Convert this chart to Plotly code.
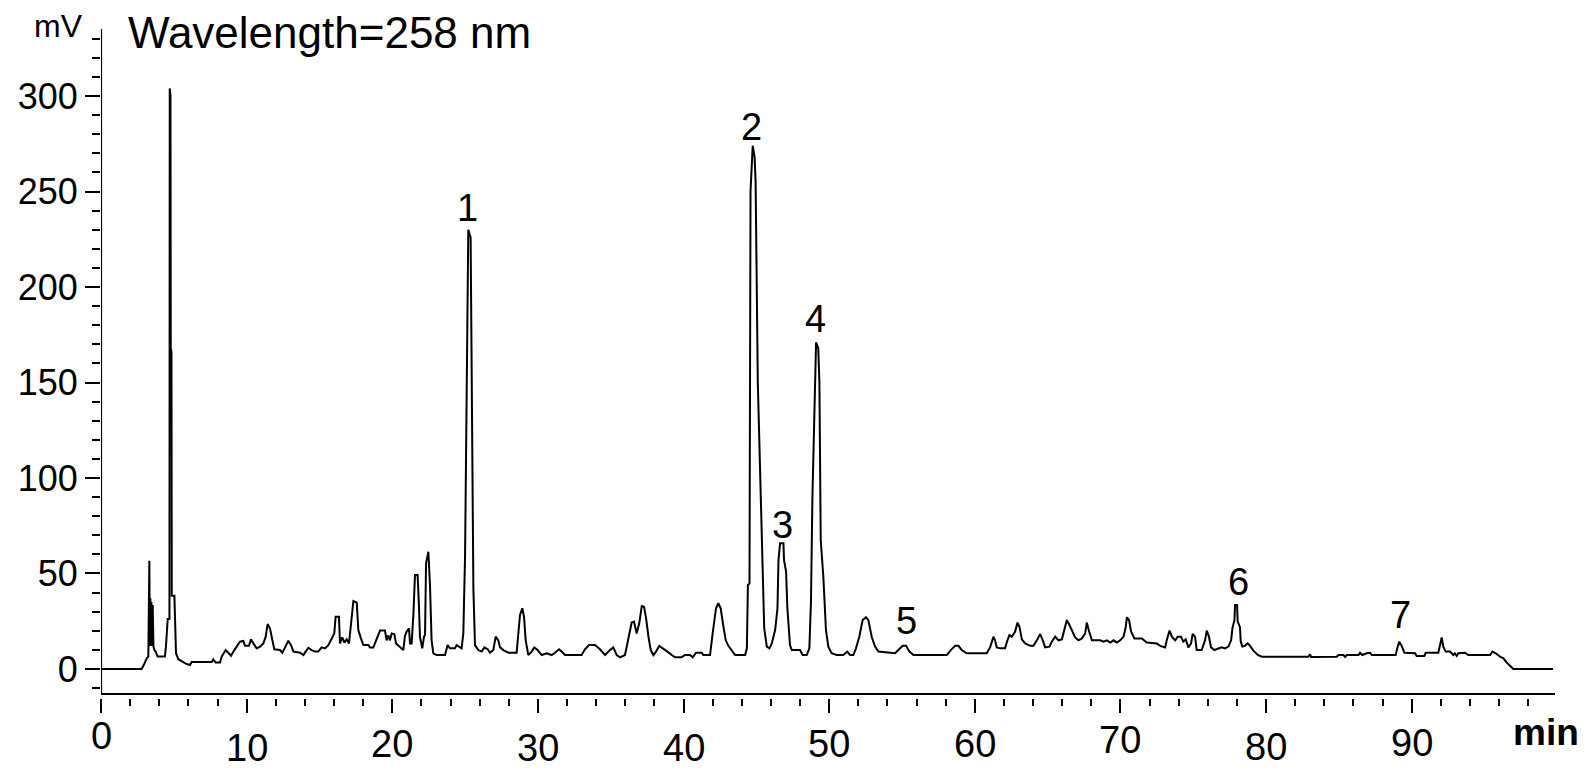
import plotly.graph_objects as go

# chromatogram trace (time in min, signal in mV)
time_min = [
    0.0, 2.79, 2.97, 3.14, 3.25, 3.32, 3.35, 3.39, 3.42, 3.46, 3.5, 3.55, 3.6, 3.66, 3.75, 3.89,
    4.39, 4.46, 4.58, 4.70, 4.72, 4.77, 4.79, 4.84, 4.86, 5.04, 5.15, 5.31, 5.59, 5.88, 6.11, 6.23,
    7.6, 7.71, 7.87, 8.17, 8.29, 8.56, 8.74, 8.93, 9.09, 9.32, 9.54, 9.77, 9.89, 10.16, 10.3, 10.46,
    10.69, 10.92, 11.15, 11.31, 11.44, 11.6, 11.72, 11.9, 12.29, 12.45, 12.64, 12.86, 13.05, 13.21,
    13.67, 13.9, 14.05, 14.24, 14.46, 14.69, 14.92, 15.15, 15.38, 15.61, 15.84, 16.02, 16.11, 16.34,
    16.41, 16.57, 16.71, 16.87, 17.03, 17.21, 17.33, 17.56, 17.67, 17.85, 18.01, 18.36, 18.47, 18.7,
    18.93, 19.16, 19.5, 19.61, 19.73, 19.84, 19.96, 20.14, 20.26, 20.53, 20.76, 20.87, 20.99, 21.15,
    21.22, 21.33, 21.45, 21.56, 21.74, 21.83, 21.9, 22.06, 22.18, 22.25, 22.32, 22.48, 22.59, 22.7,
    22.82, 23.05, 23.62, 23.8, 23.96, 24.3, 24.42, 24.76, 24.88, 25.0, 25.1, 25.22, 25.38, 25.45,
    25.57, 25.68, 25.91, 26.14, 26.32, 26.55, 26.71, 26.94, 27.1, 27.28, 27.4, 27.63, 27.97, 28.54,
    28.66, 28.77, 28.93, 29.05, 29.16, 29.34, 29.57, 29.75, 29.98, 30.26, 30.6, 30.94, 31.17, 31.45,
    31.63, 31.86, 33.0, 33.23, 33.51, 33.92, 34.26, 34.61, 34.95, 35.18, 35.41, 35.64, 35.98, 36.21,
    36.44, 36.6, 36.78, 36.97, 37.13, 37.29, 37.43, 37.59, 37.75, 37.93, 38.11, 38.34, 38.62, 38.89,
    39.19, 39.42, 39.87, 40.1, 40.44, 40.63, 40.86, 41.25, 41.36, 41.82, 42.0, 42.23, 42.39, 42.55,
    42.74, 42.9, 43.08, 43.31, 43.54, 44.23, 44.35, 44.42, 44.53, 44.6, 44.75, 44.88, 44.95, 45.1,
    45.3, 45.38, 45.45, 45.54, 45.72, 45.9, 46.06, 46.29, 46.45, 46.52, 46.63, 46.86, 46.9, 47.04,
    47.13, 47.31, 47.43, 48.0, 48.18, 48.46, 48.64, 48.75, 48.85, 49.0, 49.1, 49.25, 49.33, 49.42,
    49.6, 49.78, 49.94, 50.17, 50.51, 50.97, 51.25, 51.43, 51.66, 51.84, 52.07, 52.3, 52.53, 52.69,
    52.92, 53.15, 53.38, 54.52, 54.75, 55.05, 55.28, 55.51, 55.79, 58.08, 58.35, 58.65, 58.88, 59.1,
    59.45, 60.82, 61.05, 61.28, 61.39, 61.51, 61.74, 62.08, 62.24, 62.38, 62.54, 62.77, 62.93, 63.07,
    63.23, 63.46, 63.8, 64.03, 64.26, 64.49, 64.67, 64.83, 65.13, 65.29, 65.52, 65.75, 65.98, 66.14,
    66.32, 66.5, 66.66, 66.89, 67.12, 67.35, 67.58, 67.69, 67.85, 68.04, 68.61, 68.84, 69.07, 69.3,
    69.53, 69.76, 69.98, 70.21, 70.35, 70.45, 70.59, 70.73, 70.96, 71.47, 71.81, 72.5, 72.72, 73.07,
    73.18, 73.37, 73.53, 73.76, 73.93, 74.16, 74.32, 74.48, 74.67, 74.85, 74.96, 75.12, 75.24, 75.58,
    75.81, 75.93, 76.08, 76.22, 76.45, 76.96, 77.18, 77.41, 77.6, 77.69, 77.83, 77.87, 78.01, 78.05,
    78.21, 78.26, 78.37, 78.55, 78.74, 78.9, 79.13, 79.43, 79.7, 82.9, 83.02, 83.09, 84.85, 84.97,
    85.31, 85.43, 85.54, 86.35, 86.45, 86.61, 86.91, 87.14, 87.26, 88.9, 89.04, 89.15, 89.31, 89.5,
    90.23, 90.34, 90.87, 90.96, 91.83, 91.95, 92.06, 92.17, 92.33, 92.63, 92.86, 92.97, 93.09, 93.2,
    93.66, 93.89, 95.38, 95.54, 95.77, 96.07, 96.3, 96.52, 96.75, 96.98, 99.7,
]
signal_mv = [
    0, 0, 2.6, 5.6, 6.5, 56.7, 12, 37, 12, 35, 12, 33.5, 12, 9.9, 9.1, 6.5,
    6.5, 11.7, 26.2, 26.2, 304, 300, 168, 166, 38.4, 38.4, 8.2, 5.1, 3.9, 2.6, 2.1, 3.7,
    3.7, 5.1, 3.4, 3.4, 6.5, 9.9, 8.5, 6.9, 9.1, 12.1, 14.3, 14.7, 12.1, 12.1, 15.5, 13.4,
    10.8, 11.7, 13.4, 16.9, 23.5, 21.3, 16, 10.3, 9.9, 8.5, 11.3, 14.8, 12.5, 9.1,
    8.5, 7.3, 9.1, 11.1, 9.9, 9.1, 9.1, 11.3, 10.8, 12.5, 15.8, 18.6, 27.3, 27.3,
    13.4, 16.5, 13.8, 15.5, 13.4, 25.2, 35.6, 34.7, 20.4, 16.0, 12.5, 12.5, 11.3, 11.3,
    15.5, 20.1, 20.1, 15, 17.6, 15, 18.6, 18.3, 13.4, 11.3, 9.9, 17.3, 19.6, 21.3,
    13.4, 13.4, 28.3, 49.2, 49.2, 33.5, 16.9, 10.8, 16.9, 17.8, 55.3, 61.4, 44, 15,
    8.2, 7.3, 7.3, 12.5, 10.8, 10.8, 12.5, 10.8, 18.6, 60, 150, 230, 226, 145,
    42.2, 12.5, 9.9, 9.1, 11.3, 10.3, 8.5, 9.9, 16.9, 15, 11.3, 9.9, 8.5, 8.5,
    18.6, 28.3, 31.8, 27.1, 15, 7.3, 9.1, 11.3, 9.9, 7.3, 8.2, 7.3, 8.5, 10.3,
    9.1, 7.3, 7.3, 10.3, 12.5, 12.5, 10.3, 7.3, 9.9, 11.3, 7.3, 6.1, 7.3, 16,
    24.3, 24.8, 18.6, 24.3, 33, 32.6, 26.5, 16.9, 9.9, 7.3, 9.1, 12.1, 10.8, 9.1,
    7.3, 6.1, 6.1, 7.3, 7.3, 6.1, 8.5, 8.5, 7.3, 7.3, 18.6, 31.8, 34.4, 31.8,
    22.2, 15, 12.1, 9.9, 7.3, 7.3, 10.8, 44, 44.8, 250, 274, 268, 255, 150,
    90, 67.5, 48.3, 21.3, 11.7, 10.8, 13.4, 20.4, 31.8, 57.1, 65.8, 65.8, 57, 51,
    31.8, 12.5, 9.9, 9.9, 7.3, 7.3, 10.8, 35.2, 90, 150, 171, 168, 150, 67.5,
    48.3, 20.4, 11.7, 8.2, 7.3, 7.3, 9.1, 7.3, 7.3, 10.8, 16.9, 25.6, 27.1, 25.6,
    16.9, 11.7, 9.1, 8.2, 9.9, 12.1, 12.1, 9.1, 7.3, 7.3, 9.9, 12.1, 12.1, 9.9,
    8.2, 8.2, 11.3, 16.9, 15, 11.3, 10.8, 10.8, 15, 17.8, 16.9, 19.6, 24.3, 21.9,
    15.5, 13.4, 12.1, 12.1, 15, 18.3, 15, 11.3, 11.7, 14.3, 16.9, 15, 15.5, 20.4,
    25.6, 23, 20.4, 16.5, 15, 16, 18.6, 24.3, 19.6, 15, 15, 14.3, 15, 13.8,
    15, 13.8, 15, 16.9, 21.3, 27.1, 25.6, 19.6, 16, 16, 13.8, 13.4, 12.1, 11.3,
    15, 20.1, 16.9, 15, 16.9, 16.9, 14.3, 15.5, 11.3, 13.4, 18.3, 16.9, 9.9, 9.9,
    15, 20.1, 16.9, 11.3, 9.9, 11.3, 10.8, 11.7, 15, 21.3, 25.6, 33.5, 33.5, 24.8,
    21.9, 14.3, 11.7, 12.1, 13.4, 12.1, 9.6, 7.3, 6.4, 6.4, 7.6, 6.3, 6.4, 7.3,
    7.3, 6.3, 7.3, 7.3, 8.5, 7.3, 8.2, 8.5, 7.3, 7.3, 11.7, 14.3, 12.1, 8.5,
    8.2, 6.8, 6.8, 8.5, 8.5, 13.4, 16.5, 11.7, 9.1, 9.1, 7.3, 8.2, 6.8, 8.2,
    8.5, 7.3, 7.3, 9.1, 8.2, 6.4, 5.6, 3.4, 1.6, 0, 0,
]

# numbered peaks
peak_ids = ["1", "2", "3", "4", "5", "6", "7"]
peak_times = [25.14, 44.7, 46.8, 49.08, 55.3, 78.1, 89.2]
peak_label_mv = [241.5, 283.9, 75.6, 183.1, 25.3, 45.7, 28.3]

x_tick_vals = [0, 10, 20, 30, 40, 50, 60, 70, 80, 90]
x_tick_text = ["0", "10", "20", "30", "40", "50", "60", "70", "80", "90"]
x_label_drop = [38, 50, 46, 50, 50, 46, 46, 42, 49, 45]  # scanned labels sit unevenly

x_range = [0, 99.84]
y_range = [-15.2, 335.1]
axis_y = -13.1  # where the drawn time axis sits, a little above the ticks

FONT = "Liberation Sans, Arial, sans-serif"

fig = go.Figure()
fig.add_trace(go.Scatter(
    x=time_min, y=signal_mv, mode="lines",
    line=dict(color="black", width=2),
    hoverinfo="skip", showlegend=False,
))

# axis lines drawn by hand so the ticks start just below the x axis line
fig.add_shape(type="line", xref="x", yref="y", x0=0, x1=x_range[1], y0=axis_y, y1=axis_y,
              line=dict(color="black", width=2.2))
fig.add_shape(type="line", xref="x", yref="paper", x0=0, x1=0, y0=0.006, y1=1,
              line=dict(color="black", width=2.2))

annotations = []
for pid, t, v in zip(peak_ids, peak_times, peak_label_mv):
    annotations.append(dict(x=t, y=v, xref="x", yref="y", text=pid, showarrow=False,
                            xanchor="center", yanchor="middle",
                            font=dict(family=FONT, size=38, color="black")))
for val, txt, drop in zip(x_tick_vals, x_tick_text, x_label_drop):
    annotations.append(dict(x=val, y=0, xref="x", yref="paper", text=txt, showarrow=False,
                            xanchor="center", yanchor="middle", yshift=-drop,
                            font=dict(family=FONT, size=38, color="black")))
annotations += [
    dict(x=0, y=1, xref="paper", yref="paper", text="Wavelength=258 nm", showarrow=False,
         xanchor="left", yanchor="middle", xshift=25, yshift=-3,
         font=dict(family=FONT, size=44, color="black")),
    dict(x=0, y=1, xref="paper", yref="paper", text="mV", showarrow=False,
         xanchor="right", yanchor="middle", xshift=-16, yshift=3,
         font=dict(family=FONT, size=32, color="black")),
    dict(x=1, y=0, xref="paper", yref="paper", text="<b>min</b>", showarrow=False,
         xanchor="left", yanchor="middle", xshift=-44, yshift=-34,
         font=dict(family=FONT, size=37, color="black")),
]

# the page body adds 8px around the figure, so the figure is 8px smaller and margins shifted
fig.update_layout(
    width=1581, height=764,
    margin=dict(l=93, r=34, t=21, b=74),
    paper_bgcolor="white", plot_bgcolor="white",
    annotations=annotations,
    xaxis=dict(
        range=x_range, showgrid=False, zeroline=False, showline=False, automargin=False,
        tickmode="linear", tick0=0, dtick=10, ticks="outside", ticklen=14, tickwidth=2,
        tickcolor="black", showticklabels=False,
        minor=dict(dtick=2, ticks="outside", ticklen=7, tickwidth=2, tickcolor="black", showgrid=False),
    ),
    yaxis=dict(
        range=y_range, showgrid=False, zeroline=False, showline=False, automargin=False,
        tickmode="linear", tick0=0, dtick=50, ticks="outside", ticklen=15, tickwidth=2,
        tickcolor="black", ticklabelstandoff=0,
        tickfont=dict(family=FONT, size=36, color="black"),
        minor=dict(dtick=10, ticks="outside", ticklen=8, tickwidth=2, tickcolor="black", showgrid=False),
    ),
)

fig.write_html("out.html")
